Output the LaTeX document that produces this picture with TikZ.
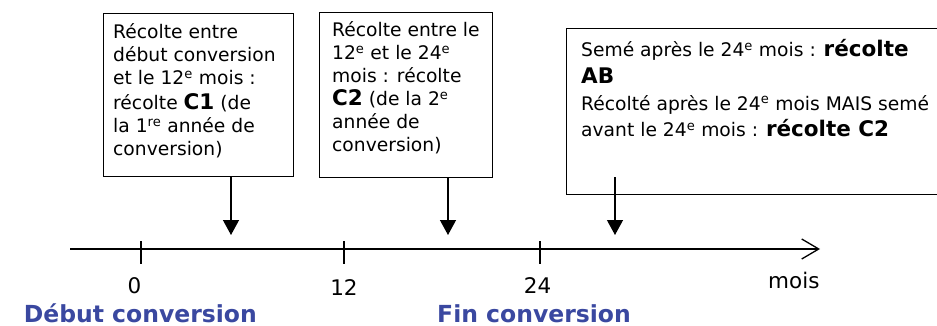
\documentclass[tikz,border=0pt]{standalone}
\usepackage{fontspec}
\setmainfont{DejaVu Sans}
\usetikzlibrary{arrows.meta}
\definecolor{labelblue}{RGB}{58,72,160}
\newcommand\bigbold[1]{{\fontsize{21.5}{23}\selectfont\bfseries #1}}
\begin{document}
\begin{tikzpicture}[x=1pt,y=-1pt,
  frame/.style={draw=black, line width=1.3pt, inner sep=0pt, anchor=north west},
  boxtext/.style={inner sep=0pt, anchor=base west, font=\fontsize{18.7}{23}\selectfont},
  pointer/.style={line width=1.3pt, -{Triangle[width=16pt,length=15pt]}},
  axisline/.style={line width=1.3pt, -{Straight Barb[length=17pt,width=20pt]}},
  tickline/.style={line width=1.3pt},
  axlabel/.style={inner sep=0pt, anchor=base, font=\fontsize{21.5}{25}\selectfont},
  phase/.style={inner sep=0pt, text=labelblue, font=\fontsize{23.5}{27}\selectfont\bfseries}]
\useasboundingbox (0,0) rectangle (937,326);
% boxes
\node[frame, minimum width=190pt, minimum height=163pt] (b1) at (103,13) {};
\node[frame, minimum width=173pt, minimum height=165pt] (b2) at (319,12) {};
\node[frame, minimum width=380pt, minimum height=166pt] (b3) at (566,28) {};
% box texts
\node[boxtext] (t1) at (113,39) {\begin{tabular}[t]{@{}l@{}}
Récolte entre\\
début conversion\\
et le 12\textsuperscript{e} mois :\\[2pt]
récolte \bigbold{C1} (de\\
la 1\textsuperscript{re} année de\\
conversion)\end{tabular}};
\node[boxtext] (t2) at (332,37) {\begin{tabular}[t]{@{}l@{}}
Récolte entre le\\
12\textsuperscript{e} et le 24\textsuperscript{e}\\
mois : récolte\\
\bigbold{C2} (de la 2\textsuperscript{e}\\
année de\\
conversion)\end{tabular}};
\node[boxtext, font=\fontsize{18.7}{26.6}\selectfont] (t3) at (581,57) {\begin{tabular}[t]{@{}l@{}}
Semé après le 24\textsuperscript{e} mois : \bigbold{récolte}\\
\bigbold{AB}\\
Récolté après le 24\textsuperscript{e} mois MAIS semé\\
avant le 24\textsuperscript{e} mois : \bigbold{récolte C2}\end{tabular}};
% axis
\coordinate (axL) at (70,249);
\coordinate (axR) at (820,249);
\draw[axisline] (axL) -- (axR);
\coordinate (m0) at (141,249);
\coordinate (m12) at (344,249);
\coordinate (m24) at (540,249);
\foreach \m in {m0,m12,m24}
  \draw[tickline] ([yshift=8pt]\m) -- ([yshift=-15pt]\m);
% pointers
\coordinate (p1) at (231,235);
\coordinate (p2) at (448,235);
\coordinate (s3) at (615,177);
\coordinate (p3) at (615,235);
\draw[pointer] (b1.south -| p1) -- (p1);
\draw[pointer] (b2.south -| p2) -- (p2);
\draw[pointer] (s3) -- (p3);
% axis labels
\node[axlabel] (l0) at (134.5,293) {0};
\node[axlabel] (l12) at (344,295) {12};
\node[axlabel] (l24) at (537.5,293) {24};
\node[axlabel, anchor=base west] (lmois) at (768,288) {mois};
% phases
\node[phase, anchor=base east] (debut) at (257,322) {Début conversion};
\node[phase, anchor=base west] (fin) at (437,322) {Fin conversion};
\end{tikzpicture}
\end{document}
